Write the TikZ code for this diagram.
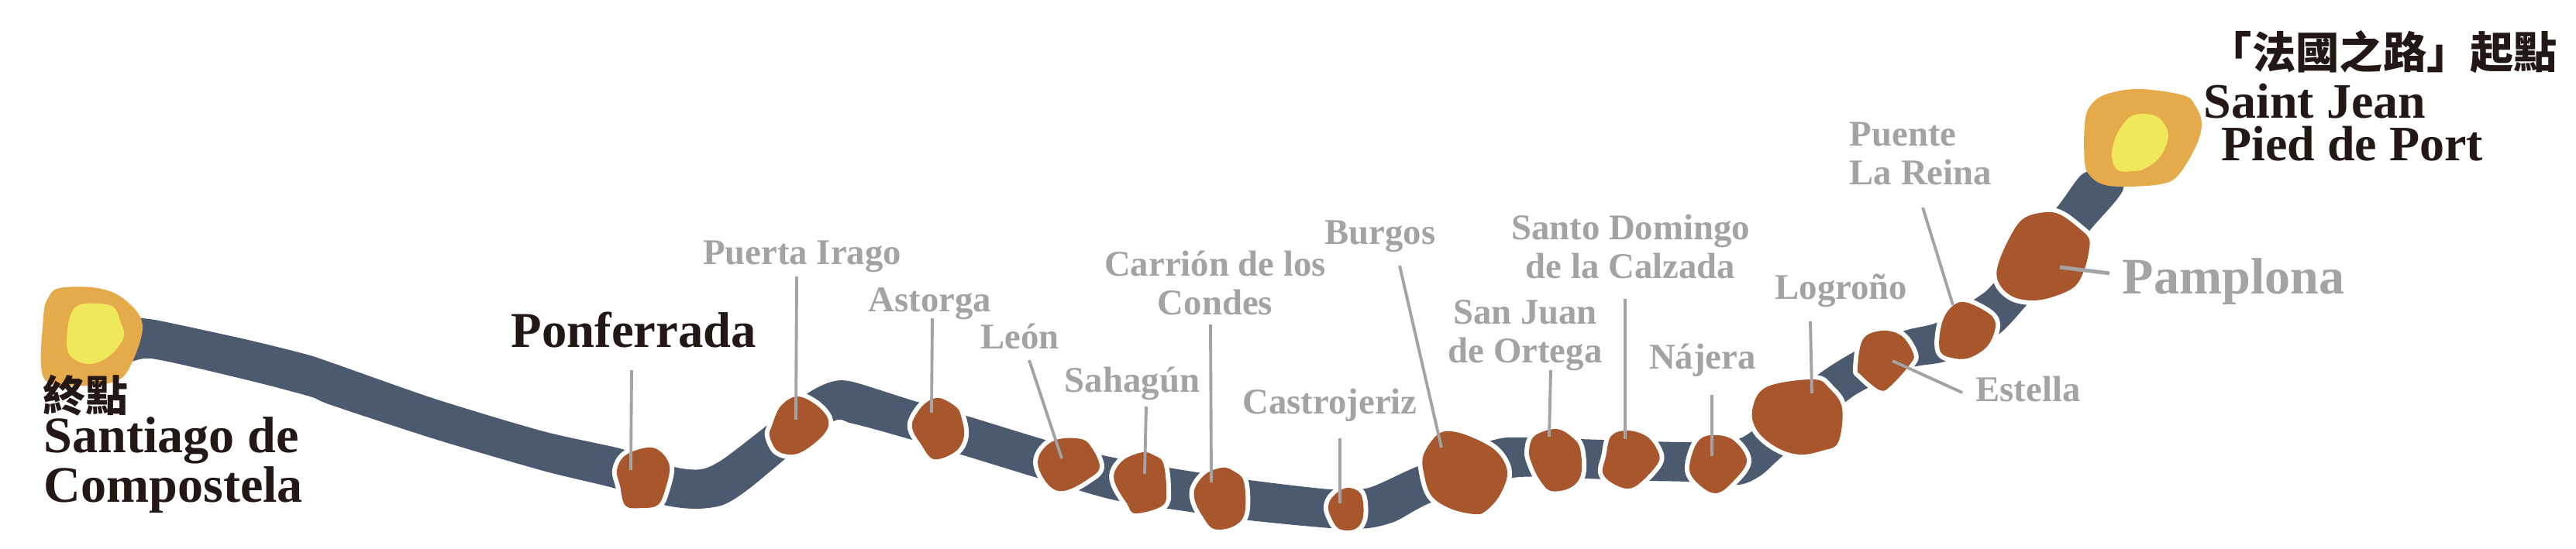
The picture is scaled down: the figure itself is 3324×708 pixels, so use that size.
\documentclass[tikz,border=0pt]{standalone}
\usepackage{fontspec}
\setmainfont{Liberation Serif}
\newfontfamily\cjkfont{Noto Sans CJK TC}
\usetikzlibrary{positioning}
\definecolor{road}{RGB}{75,90,110}
\definecolor{stopfill}{RGB}{168,86,44}
\definecolor{hubfill}{RGB}{229,170,74}
\definecolor{hubcore}{RGB}{239,232,90}
\definecolor{tagtext}{RGB}{163,163,163}
\definecolor{inktext}{RGB}{35,24,21}
\tikzset{
	stopblob/.style={fill=stopfill, preaction={draw=white, line width=3.4pt, line join=round}},
	hubblob/.style={fill=hubfill},
	coreblob/.style={fill=hubcore},
	leader/.style={draw=tagtext, line width=1.1pt},
	tag/.style={text=tagtext, inner sep=0pt, anchor=base, align=center, font=\bfseries\fontsize{13.3}{14}\selectfont},
	place/.style={text=inktext, inner sep=0pt, anchor=base west, align=left, font=\bfseries\fontsize{18.8}{15.6}\selectfont},
	cjk/.style={text=inktext, inner sep=0pt, anchor=base, font=\cjkfont\bfseries\fontsize{15.6}{16}\selectfont}
}
\begin{document}
\begin{tikzpicture}[x=0.01cm, y=-0.01cm]
			\useasboundingbox (0,0) rectangle (3324,708);
			% Road
			\fill[road] plot[smooth cycle, tension=0.45] coordinates {
				(150,408) (184,411) (210,415) (316,438) (393,457) (427,468) (561,515) (701,557) (803,580)
				(870,603) (905,606) (933,593) (989,550) (1042,508) (1073,493) (1100,493) (1177,517) (1247,537)
				(1345,567) (1423,588) (1514,605) (1612,620) (1717,632) (1766,630) (1830,602) (1928,568) (1970,565)
				(2068,568) (2184,571) (2250,564) (2343,486) (2397,452) (2458,427) (2501,416) (2553,383) (2573,365)
				(2654,268) (2692,222) (2740,242) (2697,297) (2615,394) (2576,434) (2512,466) (2465,475) (2408,502)
				(2379,521) (2300,589) (2272,614) (2243,626) (2177,622) (2131,621) (2043,618) (1952,617) (1849,648)
				(1801,673) (1766,682) (1717,682) (1612,672) (1542,662) (1444,647) (1391,633) (1338,617) (1240,587)
				(1177,568) (1100,547) (1070,547) (968,630) (933,652) (898,657) (856,652) (795,631) (701,608)
				(561,567) (427,523) (400,512) (316,490) (195,463) (150,470)};
			% Start and end
			\fill[hubblob] plot[smooth cycle, tension=0.6] coordinates {(77,372) (126,372) (161,387) (184,420) (168,473) (147,493) (98,498) (56,487) (56,410) (62,385)};
			\fill[coreblob] plot[smooth cycle, tension=0.6] coordinates {(105,393) (144,395) (156,417) (160,433) (151,450) (133,465) (112,470) (91,460) (86,440) (91,407)};
			\fill[hubblob] plot[smooth cycle, tension=0.6] coordinates {(2760,115) (2817,123) (2833,137) (2841,160) (2833,190) (2810,227) (2787,238) (2740,241) (2713,238) (2697,227) (2690,210) (2690,160) (2697,137) (2717,122)};
			\fill[coreblob] plot[smooth cycle, tension=0.6] coordinates {(2767,147) (2787,153) (2798,175) (2787,203) (2767,218) (2753,221) (2733,220) (2725,203) (2730,177) (2747,152)};
			% Stops
			\path[stopblob] plot[smooth cycle, tension=0.6] coordinates {(835,578) (852,583) (864,602) (859,630) (849,652) (828,656) (807,653) (800,627) (796,607) (807,588)};
			\path[stopblob] plot[smooth cycle, tension=0.6] coordinates {(1028,512) (1052,522) (1068,540) (1066,557) (1045,577) (1024,587) (1003,582) (993,563) (996,550) (1007,525)};
			\path[stopblob] plot[smooth cycle, tension=0.6] coordinates {(1212,514) (1233,525) (1240,537) (1244,563) (1233,583) (1205,593) (1188,573) (1177,553) (1181,537) (1195,520)};
			\path[stopblob] plot[smooth cycle, tension=0.6] coordinates {(1388,566) (1405,573) (1419,603) (1402,620) (1377,633) (1360,632) (1346,617) (1339,597) (1346,580) (1363,568)};
			\path[stopblob] plot[smooth cycle, tension=0.6] coordinates {(1475,584) (1489,588) (1501,598) (1505,633) (1500,653) (1465,663) (1454,650) (1440,627) (1438,610) (1451,593)};
			\path[stopblob] plot[smooth cycle, tension=0.6] coordinates {(1577,604) (1591,608) (1605,622) (1606,663) (1591,680) (1566,683) (1552,667) (1542,647) (1542,630) (1556,612)};
			\path[stopblob] plot[smooth cycle, tension=0.6] coordinates {(1738,630) (1756,638) (1759,667) (1749,683) (1728,683) (1717,667) (1714,653) (1721,640)};
			\path[stopblob] plot[smooth cycle, tension=0.6] coordinates {(1872,557) (1900,565) (1931,583) (1945,610) (1935,640) (1917,660) (1903,664) (1872,657) (1847,640) (1837,610) (1837,587) (1854,562)};
			\path[stopblob] plot[smooth cycle, tension=0.6] coordinates {(2008,554) (2029,565) (2039,580) (2040,613) (2026,630) (2001,634) (1987,620) (1977,600) (1973,583) (1980,563)};
			\path[stopblob] plot[smooth cycle, tension=0.6] coordinates {(2100,556) (2124,563) (2138,580) (2140,597) (2117,623) (2100,631) (2079,623) (2068,610) (2072,590) (2079,563)};
			\path[stopblob] plot[smooth cycle, tension=0.6] coordinates {(2207,562) (2236,568) (2254,596) (2232,626) (2214,637) (2195,628) (2180,607) (2189,573)};
			\path[stopblob] plot[smooth cycle, tension=0.6] coordinates {(2340,490) (2361,502) (2377,527) (2372,571) (2351,582) (2322,587) (2293,578) (2268,557) (2261,530) (2279,500)};
			\path[stopblob] plot[smooth cycle, tension=0.6] coordinates {(2429,427) (2454,434) (2469,457) (2465,470) (2440,498) (2426,504) (2401,484) (2397,475) (2404,438)};
			\path[stopblob] plot[smooth cycle, tension=0.6] coordinates {(2530,390) (2562,402) (2575,418) (2566,445) (2544,461) (2523,463) (2503,452) (2508,411)};
			\path[stopblob] plot[smooth cycle, tension=0.6] coordinates {(2640,274) (2660,278) (2683,295) (2695,307) (2696,320) (2690,347) (2677,370) (2650,383) (2623,388) (2597,383) (2580,367) (2577,347) (2590,313) (2610,283)};
			% Labels
			\node[cjk] (endmark) at (110,531) {終點};
			\node[place] (santiago) at (56,648) {Santiago de\\Compostela};
			\node[place, font=\bfseries\fontsize{18.4}{16}\selectfont] (ponferrada) at (659,448) {Ponferrada};
			\node[tag] (irago) at (1035,341) {Puerta Irago};
			\node[tag] (astorga) at (1200,402) {Astorga};
			\node[tag] (leon) at (1316,450) {León};
			\node[tag] (sahagun) at (1461,506) {Sahagún};
			\node[tag] (carrion) at (1568,406) {Carrión de los\\Condes};
			\node[tag] (castrojeriz) at (1716,534) {Castrojeriz};
			\node[tag] (burgos) at (1781,315) {Burgos};
			\node[tag] (sanjuan) at (1968,468) {San Juan\\de Ortega};
			\node[tag] (domingo) at (2104,359) {Santo Domingo\\de la Calzada};
			\node[tag] (najera) at (2197,476) {Nájera};
			\node[tag] (logrono) at (2376,386) {Logroño};
			\node[tag, align=left, anchor=base west] (puente) at (2386,238) {Puente\\La Reina};
			\node[tag] (estella) at (2617,518) {Estella};
			\node[tag, font=\bfseries\fontsize{18.8}{20}\selectfont] (pamplona) at (2882,379) {Pamplona};
			\node[cjk, font=\cjkfont\bfseries\fontsize{16}{16}\selectfont] (startmark) at (3075,88) {「法國之路」起點};
			\node[place, font=\bfseries\fontsize{18.2}{15.6}\selectfont] (saintjean) at (2843,207) {Saint Jean\\\hspace*{6.4pt}Pied de Port};
			% Leaders
			\coordinate (tagponferrada) at (815,478);
			\coordinate (stopponferrada) at (814,607);
			\coordinate (tagirago) at (1028,357);
			\coordinate (stopirago) at (1027,542);
			\coordinate (tagastorga) at (1203,411);
			\coordinate (stopastorga) at (1202,533);
			\coordinate (tagleon) at (1328,465);
			\coordinate (stopleon) at (1370,592);
			\coordinate (tagsahagun) at (1479,525);
			\coordinate (stopsahagun) at (1477,612);
			\coordinate (tagcarrion) at (1562,419);
			\coordinate (stopcarrion) at (1563,623);
			\coordinate (tagcastrojeriz) at (1729,566);
			\coordinate (stopcastrojeriz) at (1729,650);
			\coordinate (tagburgos) at (1806,343);
			\coordinate (stopburgos) at (1860,578);
			\coordinate (tagsanjuan) at (2001,478);
			\coordinate (stopsanjuan) at (1999,564);
			\coordinate (tagdomingo) at (2097,386);
			\coordinate (stopdomingo) at (2097,567);
			\coordinate (tagnajera) at (2209,510);
			\coordinate (stopnajera) at (2209,589);
			\coordinate (taglogrono) at (2336,415);
			\coordinate (stoplogrono) at (2338,508);
			\coordinate (tagpuente) at (2481,268);
			\coordinate (stoppuente) at (2520,394);
			\coordinate (tagestella) at (2532,507);
			\coordinate (stopestella) at (2442,466);
			\coordinate (tagpamplona) at (2722,353);
			\coordinate (stoppamplona) at (2658,345);
			\draw[leader] (tagponferrada) -- (stopponferrada);
			\draw[leader] (tagirago) -- (stopirago);
			\draw[leader] (tagastorga) -- (stopastorga);
			\draw[leader] (tagleon) -- (stopleon);
			\draw[leader] (tagsahagun) -- (stopsahagun);
			\draw[leader] (tagcarrion) -- (stopcarrion);
			\draw[leader] (tagcastrojeriz) -- (stopcastrojeriz);
			\draw[leader] (tagburgos) -- (stopburgos);
			\draw[leader] (tagsanjuan) -- (stopsanjuan);
			\draw[leader] (tagdomingo) -- (stopdomingo);
			\draw[leader] (tagnajera) -- (stopnajera);
			\draw[leader] (taglogrono) -- (stoplogrono);
			\draw[leader] (tagpuente) -- (stoppuente);
			\draw[leader] (tagestella) -- (stopestella);
			\draw[leader, line width=1.4pt] (tagpamplona) -- (stoppamplona);
		\end{tikzpicture}
\end{document}
